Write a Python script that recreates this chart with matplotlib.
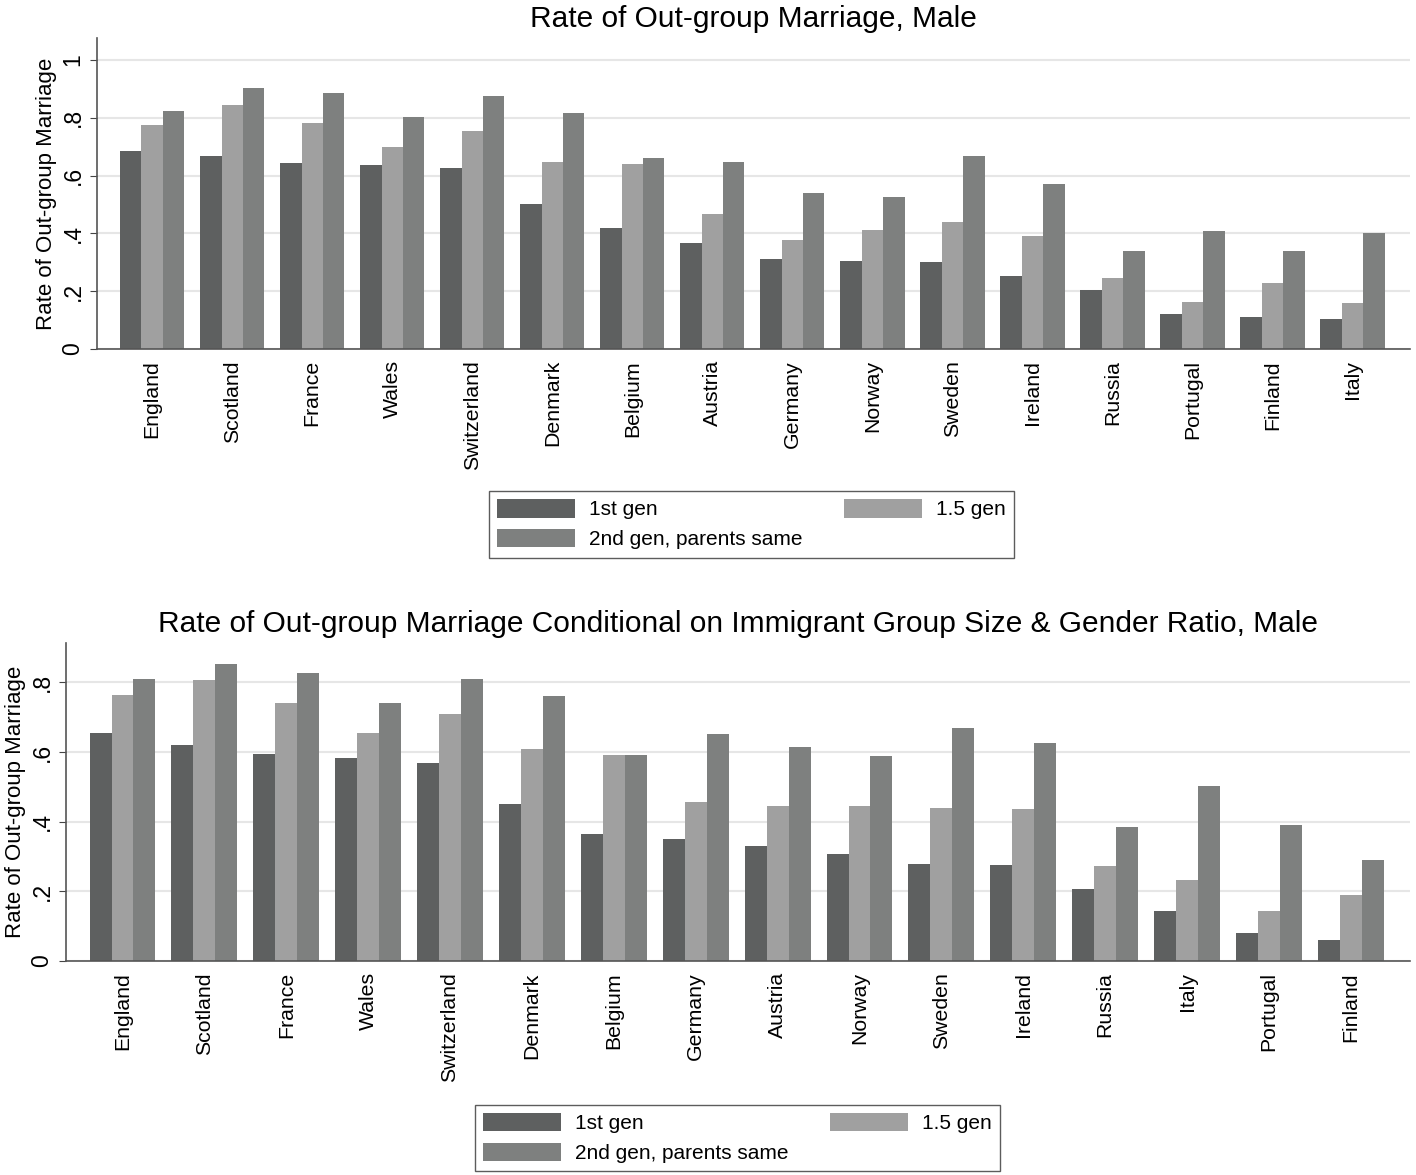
import numpy as np
import matplotlib
matplotlib.use("Agg")
import matplotlib.pyplot as plt

plt.rcParams['font.family'] = ['Liberation Sans', 'DejaVu Sans']

# raw rates, male, by country of origin
countries_raw = ['England', 'Scotland', 'France', 'Wales', 'Switzerland', 'Denmark',
                 'Belgium', 'Austria', 'Germany', 'Norway', 'Sweden', 'Ireland',
                 'Russia', 'Portugal', 'Finland', 'Italy']
gen1_raw = [0.685, 0.668, 0.644, 0.637, 0.626, 0.502, 0.419, 0.367, 0.311, 0.304,
            0.301, 0.253, 0.204, 0.121, 0.110, 0.104]
gen15_raw = [0.775, 0.844, 0.782, 0.699, 0.754, 0.647, 0.640, 0.467, 0.377, 0.412,
             0.439, 0.391, 0.246, 0.163, 0.228, 0.159]
gen2_raw = [0.824, 0.903, 0.886, 0.803, 0.875, 0.817, 0.661, 0.647, 0.540, 0.526,
            0.668, 0.571, 0.339, 0.408, 0.339, 0.401]

# conditional on group size & gender ratio
countries_cond = ['England', 'Scotland', 'France', 'Wales', 'Switzerland', 'Denmark',
                  'Belgium', 'Germany', 'Austria', 'Norway', 'Sweden', 'Ireland',
                  'Russia', 'Italy', 'Portugal', 'Finland']
gen1_cond = [0.656, 0.621, 0.595, 0.583, 0.569, 0.450, 0.365, 0.351, 0.329, 0.306,
             0.279, 0.276, 0.206, 0.144, 0.081, 0.059]
gen15_cond = [0.763, 0.806, 0.741, 0.654, 0.708, 0.608, 0.592, 0.456, 0.446, 0.446,
              0.439, 0.436, 0.274, 0.232, 0.144, 0.189]
gen2_cond = [0.809, 0.852, 0.826, 0.741, 0.809, 0.761, 0.592, 0.651, 0.614, 0.588,
             0.670, 0.627, 0.384, 0.504, 0.391, 0.290]

series_labels = ['1st gen', '1.5 gen', '2nd gen, parents same']
colors = ['#5e6060', '#a0a0a0', '#7e807f']


def tick_text(t):
    if t == 0:
        return '0'
    if t == 1:
        return '1'
    return ('%.1f' % t)[1:]


def draw_panel(ax, countries, series, title, ymax, yticks):
    x = np.arange(len(countries))
    w = 0.268
    bars = []
    for i, (vals, c) in enumerate(zip(series, colors)):
        bars.append(ax.bar(x + (i - 1) * w, vals, w, color=c, edgecolor='none', zorder=2))
    ax.set_xlim(-0.69, len(countries) - 0.28)
    ax.set_ylim(0, ymax)
    ax.set_yticks(yticks)
    ax.set_yticklabels([tick_text(t) for t in yticks], rotation=90, va='center', fontsize=16.5)
    ax.set_xticks(x)
    ax.set_xticklabels(countries, rotation=90, fontsize=15.3)
    ax.tick_params(axis='x', length=0, pad=8)
    ax.tick_params(axis='y', length=5, color='#444444', pad=4)
    ax.yaxis.grid(True, color='#e6e6e6', linewidth=1.5, zorder=0)
    ax.set_axisbelow(True)
    for s in ['top', 'right']:
        ax.spines[s].set_visible(False)
    for s in ['left', 'bottom']:
        ax.spines[s].set_color('#555555')
        ax.spines[s].set_linewidth(1.2)
    ax.set_ylabel('Rate of Out-group Marriage', fontsize=16, labelpad=3)
    ax.set_title(title, fontsize=21.5, pad=8)
    return bars


fig = plt.figure(figsize=(14.16, 11.75), dpi=100)

ax1 = fig.add_axes([0.0685, 0.703, 0.9273, 0.2647])
b1 = draw_panel(ax1, countries_raw, [gen1_raw, gen15_raw, gen2_raw],
                'Rate of Out-group Marriage, Male', 1.076, [0, 0.2, 0.4, 0.6, 0.8, 1.0])

ax2 = fig.add_axes([0.0466, 0.1821, 0.949, 0.2706])
b2 = draw_panel(ax2, countries_cond, [gen1_cond, gen15_cond, gen2_cond],
                'Rate of Out-group Marriage Conditional on Immigrant Group Size & Gender Ratio, Male',
                0.913, [0, 0.2, 0.4, 0.6, 0.8])

for bars, (cx, cy) in [(b1, (0.5307, 0.554)), (b2, (0.5208, 0.0315))]:
    leg = fig.legend([bars[0], bars[2], bars[1]],
                     [series_labels[0], series_labels[2], series_labels[1]],
                     loc='center', bbox_to_anchor=(cx, cy), ncol=2, fontsize=15,
                     handlelength=3.75, handleheight=1.0, handletextpad=0.65,
                     columnspacing=2.0, labelspacing=0.45, borderpad=0.4,
                     frameon=True, fancybox=False, edgecolor='#333333')
    leg.get_frame().set_linewidth(1.0)

fig.savefig('out.png', dpi=100)
